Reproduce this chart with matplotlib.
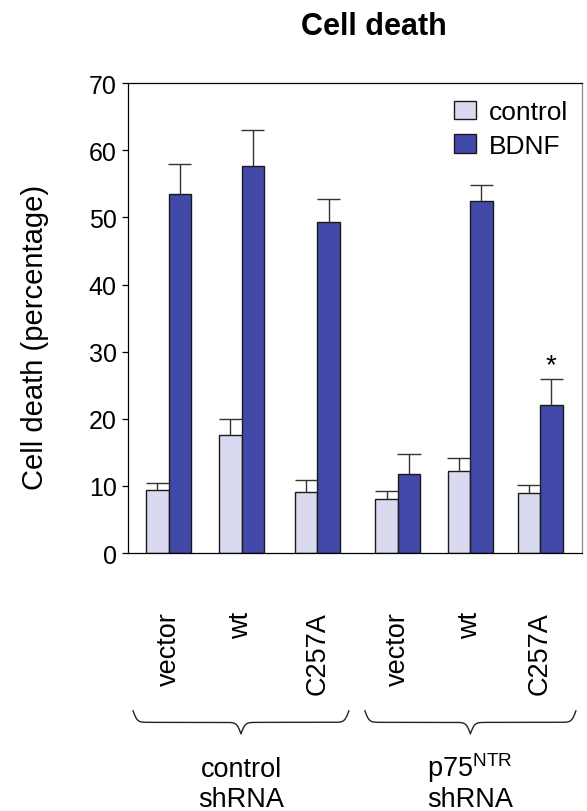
""" Cell death bar chart
"""

import matplotlib.pyplot as plt
import matplotlib.transforms as mtransforms
import numpy as np

# Data
constructs = ['vector', 'wt', 'C257A', 'vector', 'wt', 'C257A']
control_vals = [9.4, 17.6, 9.1, 8.0, 12.2, 8.9]
control_err = [1.0, 2.4, 1.8, 1.2, 2.0, 1.3]
bdnf_vals = [53.5, 57.7, 49.3, 11.8, 52.4, 22.0]
bdnf_err = [4.5, 5.3, 3.4, 3.0, 2.5, 3.9]
groups = ['control', 'p75$^{\\mathregular{NTR}}$']
group_sub = ['shRNA', 'shRNA']

plt.rcParams['font.family'] = ['Liberation Sans', 'DejaVu Sans']


def brace(ax, x0, x1, y_top, depth, beta=35.0):
    # curly brace drawn below the axes, x in data units, y in axes fraction
    n = 301
    x = np.linspace(x0, x1, n)
    xh = x[:n // 2 + 1]
    yh = (1 / (1 + np.exp(-beta * (xh - xh[0])))
          + 1 / (1 + np.exp(-beta * (xh - xh[-1]))))
    y = np.concatenate((yh, yh[-2::-1]))
    y = y_top - (y - 0.5) * depth
    trans = mtransforms.blended_transform_factory(ax.transData, ax.transAxes)
    ax.plot(x, y, color='#222222', lw=1.0, transform=trans, clip_on=False)


def main():
    fig = plt.figure(figsize=(5.87, 8.12), dpi=100)
    ax = fig.add_axes([0.2176, 0.3177, 0.9915 - 0.2176, 0.8962 - 0.3177])

    xpos = np.array([0, 1, 2.04, 3.14, 4.13, 5.09])
    w = 0.308
    capw = 0.16

    ax.bar(xpos - w / 2, control_vals, w, color='#D9DAF0',
           edgecolor='#1a1a1a', linewidth=1.0, label='control', zorder=2)
    ax.bar(xpos + w / 2, bdnf_vals, w, color='#4349A8',
           edgecolor='#1a1a1a', linewidth=1.0, label='BDNF', zorder=2)

    # upper error bars only
    for xs, vals, errs in [(xpos - w / 2, control_vals, control_err),
                           (xpos + w / 2, bdnf_vals, bdnf_err)]:
        tops = np.array(vals) + np.array(errs)
        ax.vlines(xs, vals, tops, color='#333333', lw=1.0, zorder=3)
        ax.hlines(tops, xs - capw, xs + capw, color='#333333', lw=1.0, zorder=3)

    ax.text(xpos[5] + w / 2, 27.0, '*', ha='center', va='baseline', fontsize=20)

    ax.set_xlim(-0.559, 5.664)
    ax.set_ylim(0, 70)
    ax.set_yticks(range(0, 71, 10))
    ax.tick_params(axis='y', labelsize=18, length=4, width=0.9, pad=4)
    ax.set_xticks(xpos)
    ax.set_xticklabels(constructs, rotation=90, fontsize=19.5, va='top')
    ax.tick_params(axis='x', length=0, pad=42)
    for s in ax.spines.values():
        s.set_linewidth(0.9)
    ax.spines['right'].set_color('#888888')

    ax.set_ylabel('Cell death (percentage)', fontsize=21)
    ax.yaxis.set_label_coords(-0.173, 0.462)

    fig.text(0.637, 0.967, 'Cell death', ha='center', va='center',
             fontsize=22, fontweight='bold')

    ax.legend(loc='upper left', bbox_to_anchor=(0.718, 0.964), frameon=False,
              fontsize=19, handlelength=0.82, handleheight=0.7,
              handletextpad=0.5, labelspacing=0.36, borderpad=0,
              borderaxespad=0)

    # group braces and labels
    brace(ax, -0.486, 2.47, -0.336, 0.049)
    brace(ax, 2.69, 5.58, -0.336, 0.049)
    trans = mtransforms.blended_transform_factory(ax.transData, ax.transAxes)
    for xc, top, bottom in zip([1.0, 4.13], groups, group_sub):
        ax.text(xc, -0.4748, top, transform=trans, ha='center',
                va='baseline', fontsize=19.5)
        ax.text(xc, -0.5386, bottom, transform=trans, ha='center',
                va='baseline', fontsize=19.5)

    fig.savefig('out.png', dpi=100)


if __name__ == '__main__':
    main()
